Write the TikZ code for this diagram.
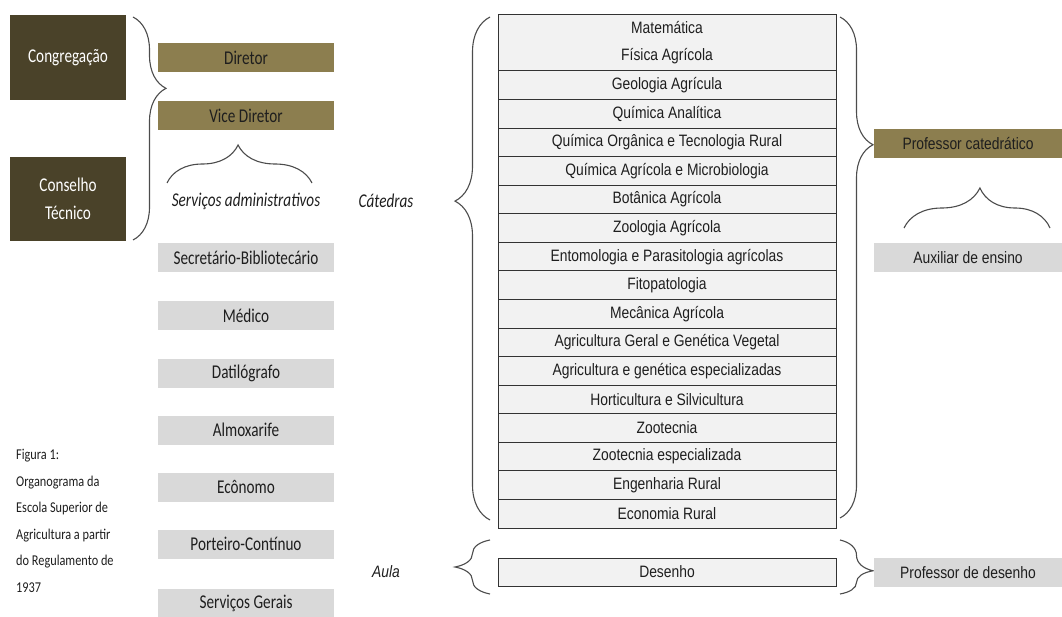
\documentclass[tikz,border=0pt]{standalone}
\usepackage{fontspec}
\setmainfont{Carlito}
\newfontfamily\calf[FakeStretch=0.78]{Carlito}
\newfontfamily\figf[FakeStretch=0.82]{Carlito}
\newfontfamily\arialf[FakeStretch=0.84]{Liberation Sans}
\usetikzlibrary{decorations.pathreplacing}
\definecolor{darkb}{HTML}{4A4229}
\definecolor{olivebox}{HTML}{8C7E4F}
\definecolor{lgray}{HTML}{D9D9D9}
\definecolor{cellgray}{HTML}{F2F2F2}
\definecolor{txt}{HTML}{1E1E1E}
\begin{document}
\begin{tikzpicture}[x=1pt,y=-1pt,
  dbox/.style={fill=darkb, text=white, minimum width=116pt, minimum height=85pt, inner sep=0pt, align=center, font=\calf\fontsize{19.5}{28}\selectfont},
  obox/.style={fill=olivebox, text=txt, minimum width=176pt, minimum height=29pt, inner sep=0pt, font=\calf\fontsize{19.5}{22}\selectfont},
  gbox/.style={fill=lgray, text=txt, minimum width=176pt, minimum height=29pt, inner sep=0pt, font=\calf\fontsize{19.5}{22}\selectfont},
  rbox/.style={minimum width=188pt, minimum height=29pt, inner sep=0pt, text=txt, font=\arialf\fontsize{16.5}{19}\selectfont},
  cell/.style={draw=black!80, line width=1pt, fill=cellgray, text=txt, minimum width=338pt, minimum height=28.56pt, inner sep=0pt, align=center, font=\arialf\fontsize{16.5}{27}\selectfont},
  lbl/.style={text=txt, inner sep=0pt, font=\calf\itshape\fontsize{19.5}{22}\selectfont},
  br/.style 2 args={decorate, decoration={brace, amplitude=#1, aspect=#2}, draw=black!70, line width=1.1pt},
]
\useasboundingbox (0,0) rectangle (1062,617);

% left column
\node[dbox] (cong) at (68,57.5) {Congregação};
\node[dbox, minimum height=84pt] (cons) at (68,199) {Conselho\\Técnico};
\node[obox] (dir) at (246,57.5) {Diretor};
\node[obox] (vdir) at (246,115.5) {Vice Diretor};
\node[lbl] (serv) at (246,201) {Serviços administrativos};
\node[gbox] (sec) at (246,258) {Secretário-Bibliotecário};
\node[gbox] (med) at (246,316) {Médico};
\node[gbox] (dat) at (246,373) {Datilógrafo};
\node[gbox] (alm) at (246,430) {Almoxarife};
\node[gbox] (eco) at (246,487) {Ecônomo};
\node[gbox] (por) at (246,544) {Porteiro-Contínuo};
\node[gbox, minimum height=28pt] (sg) at (246,603) {Serviços Gerais};

\node[anchor=north west, inner sep=0pt, align=left, text=txt, font=\figf\fontsize{15}{26.5}\selectfont] (fig) at (16,449)
  {Figura 1:\\Organograma da\\Escola Superior de\\Agricultura a partir\\do Regulamento de\\1937};

% braces left
\coordinate (b1s) at (133,17);
\coordinate (b1e) at (133,240);
\draw[br={33pt}{0.32}] (b1s) -- (b1e);
\coordinate (b2s) at (167,183);
\coordinate (b2e) at (312,183);
\draw[br={38pt}{0.49}] (b2s) -- (b2e);

% labels
\node[lbl] (cat) at (386,201) {Cátedras};
\node[text=txt, inner sep=0pt, font=\arialf\itshape\fontsize{16.5}{19}\selectfont] (aula) at (386,572) {Aula};

% table
\node[cell, minimum height=56pt] (r0) at (667,43) {Matemática\\Física Agrícola};
\foreach \t [count=\i from 0] in {Geologia Agrícula,Química Analítica,Química Orgânica e Tecnologia Rural,Química Agrícola e Microbiologia,Botânica Agrícola,Zoologia Agrícola,Entomologia e Parasitologia agrícolas,Fitopatologia,Mecânica Agrícola,Agricultura Geral e Genética Vegetal,Agricultura e genética especializadas,Horticultura e Silvicultura,Zootecnia,Zootecnia especializada,Engenharia Rural,Economia Rural}
  \node[cell] (r\i) at (667,{71+28.5625*(\i+0.5)}) {\t};
\node[cell, minimum height=28pt] (des) at (667,572) {Desenho};

% braces around table
\coordinate (b3s) at (490,520);
\coordinate (b3e) at (490,17);
\draw[br={35pt}{0.634}] (b3s) -- (b3e);
\coordinate (b4s) at (840,17);
\coordinate (b4e) at (840,518);
\draw[br={33pt}{0.255}] (b4s) -- (b4e);
\coordinate (b5s) at (490,594);
\coordinate (b5e) at (490,540);
\draw[br={35pt}{0.5}] (b5s) -- (b5e);
\coordinate (b6s) at (840,540);
\coordinate (b6e) at (840,594);
\draw[br={33pt}{0.57}] (b6s) -- (b6e);

% right column
\node[rbox, fill=olivebox] (pcat) at (968,143.5) {Professor catedrático};
\coordinate (b7s) at (904,228);
\coordinate (b7e) at (1050,228);
\draw[br={40pt}{0.52}] (b7s) -- (b7e);
\node[rbox, fill=lgray] (aux) at (968,257.5) {Auxiliar de ensino};
\node[rbox, fill=lgray] (pdes) at (968,572.5) {Professor de desenho};
\end{tikzpicture}
\end{document}
